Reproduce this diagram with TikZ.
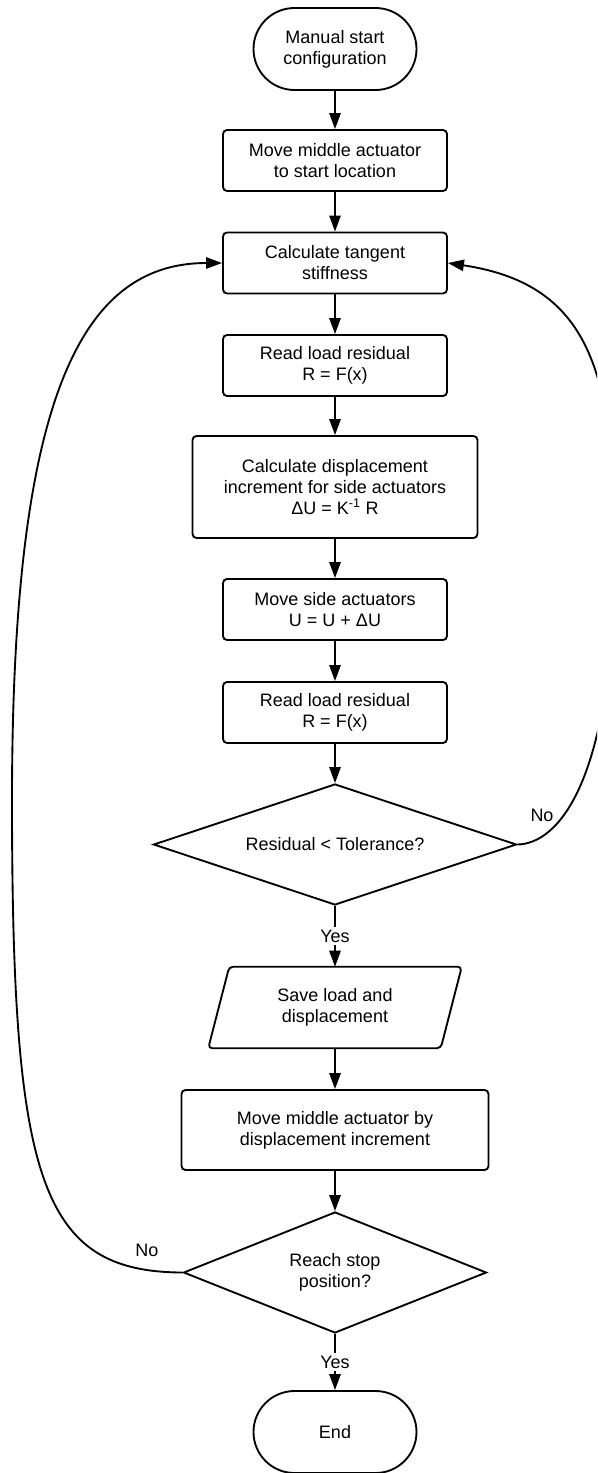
\documentclass[tikz,border=0pt]{standalone}
\usepackage{fontspec}
\setmainfont{Liberation Sans}
\usetikzlibrary{shapes.geometric,shapes.misc,arrows.meta,calc}
\begin{document}
\begin{tikzpicture}[x=0.75pt,y=-0.75pt,
  every node/.style={font=\fontsize{13.5pt}{15.75pt}\selectfont, align=center},
  base/.style={draw, line width=1.4pt, inner sep=0pt},
  proc/.style={base, rectangle, rounded corners=3pt, minimum width=168pt, minimum height=45.75pt},
  term/.style={base, rounded rectangle, minimum width=122.25pt, minimum height=61.5pt},
  decide/.style={base, diamond, aspect=3, minimum width=#1, minimum height=90.75pt},
  flow/.style={line width=1.4pt, -{Triangle[length=12pt,width=8.5pt]}},
  lbl/.style={fill=white, inner sep=2pt}
]
\useasboundingbox (0,0) rectangle (597,1473);
\clip (0,0) rectangle (597,1473);

\node[term] (start) at (335,49) {Manual start\\configuration};
\node[proc] (b2) at (335,160.5) {Move middle actuator\\to start location};
\node[proc] (b3) at (335,263) {Calculate tangent\\stiffness};
\node[proc] (b4) at (335,365.5) {Read load residual\\R = F(x)};
\node[proc, minimum width=213.75pt, minimum height=76.5pt] (b5) at (335,487) {Calculate displacement\\increment for side actuators\\ΔU = K\textsuperscript{-1} R};
\node[proc] (b6) at (335,609.5) {Move side actuators\\U = U + ΔU};
\node[proc] (b7) at (335,712.5) {Read load residual\\R = F(x)};
\node[decide=272.25pt] (d1) at (335,844.5) {Residual < Tolerance?};
\node[inner sep=0pt, minimum width=189.75pt, minimum height=60.75pt] (sv) at (335,1007.5) {Save load and\\displacement};
\draw[line width=1.4pt, rounded corners=3pt]
  ($(sv.north west)+(21,0)$) -- (sv.north east) -- ($(sv.south east)-(21,0)$) -- (sv.south west) -- cycle;
\node[proc, minimum width=230.25pt, minimum height=60pt] (b9) at (335,1130) {Move middle actuator by\\displacement increment};
\node[decide=227.25pt] (d2) at (335,1272.5) {Reach stop\\position?};
\node[term] (end) at (335,1432) {End};

\draw[flow] (start) -- (b2);
\draw[flow] (b2) -- (b3);
\draw[flow] (b3) -- (b4);
\draw[flow] (b4) -- (b5);
\draw[flow] (b5) -- (b6);
\draw[flow] (b6) -- (b7);
\draw[flow] (b7) -- (d1);
\draw[flow] (d1.south) -- node[lbl] (yes1) {Yes} (sv.north);
\draw[flow] (sv.south) -- (b9.north);
\draw[flow] (b9) -- (d2);
\draw[flow] (d2.south) -- node[lbl] (yes2) {Yes} (end.north);

\draw[flow] (d1.east) .. controls (555,844) and (612,790) .. (615,560)
  .. controls (615,380) and (595,285) .. (b3.east);
\node (no1) at (542,815) {No};

\draw[flow] (d2.west) .. controls (40,1272) and (12,1180) .. (12,800)
  .. controls (12,400) and (80,263) .. (b3.west);
\node (no2) at (147,1250) {No};
\end{tikzpicture}
\end{document}
